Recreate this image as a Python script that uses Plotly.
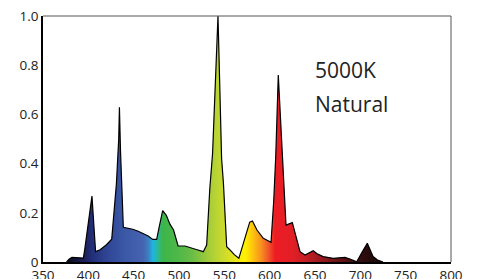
import plotly.graph_objects as go

# Spectral data (wavelength nm, relative intensity)
wavelength = [376, 379, 382, 392, 394.5, 396, 404, 408, 413, 420, 425.8, 431, 433.5, 434.3,
              435.5, 438.6, 444, 449, 455, 460.6, 466, 471, 475.4, 478, 482, 486, 490, 494,
              499, 506.6, 514, 520, 526.8, 530.5, 534, 537, 543, 547, 549, 552.6, 556, 561,
              566, 578, 581, 586, 593, 601.5, 604.5, 606.7, 609.5, 614.3, 616.5, 618,
              625, 629, 633.5, 639, 648, 653, 659, 670, 683, 690, 696, 702, 707.7, 714, 719, 725]
intensity = [0.0, 0.012, 0.019, 0.019, 0.016, 0.05, 0.268, 0.042, 0.05, 0.07, 0.093, 0.32, 0.5, 0.629,
             0.45, 0.141, 0.138, 0.133, 0.125, 0.117, 0.106, 0.092, 0.092, 0.14, 0.209, 0.19, 0.154, 0.13,
             0.065, 0.065, 0.058, 0.05, 0.042, 0.069, 0.30, 0.44, 1.0, 0.42, 0.32, 0.062, 0.05, 0.03,
             0.015, 0.162, 0.167, 0.13, 0.096, 0.08, 0.25, 0.43, 0.76, 0.415, 0.25, 0.15,
             0.16, 0.1, 0.042, 0.028, 0.046, 0.032, 0.022, 0.015, 0.019, 0.01, 0.001, 0.04, 0.076, 0.022, 0.008, 0.0]

# Wavelength colour stops for the fill
color_nm = [376, 395, 405, 420, 440, 460, 466, 471, 476, 482, 500, 515, 530, 540, 555, 565, 573,
            582, 590, 598, 606, 625, 640, 655, 670, 690, 705, 725]
color_hex = ["#0b0b1c", "#1b1e55", "#23307a", "#2f4594", "#3a58a6", "#4563b0", "#3f7cc0", "#1cb5e2",
             "#2ab9a0", "#3cb54a", "#50b848", "#6abd45", "#9cca3b", "#b6d334", "#d8df26", "#f2ea14",
             "#fff200", "#fdc010", "#f7941d", "#f15a29", "#ed1c24", "#e21f26", "#c41e24", "#9b1b1f",
             "#761618", "#4a1012", "#2b0c0c", "#1a0808"]

x_ticks = [350, 400, 450, 500, 550, 600, 650, 700, 750, 800]
y_ticks = [0, 0.2, 0.4, 0.6, 0.8, 1.0]
y_ticktext = ["0", "0.2", "0.4", "0.6", "0.8", "1.0"]
label_lines = ["5000K", "Natural"]

lo, hi = color_nm[0], color_nm[-1]
colorscale = [[(w - lo) / (hi - lo), c] for w, c in zip(color_nm, color_hex)]

fig = go.Figure()
fig.add_trace(go.Scatter(
    x=wavelength, y=intensity, mode="lines", fill="tozeroy",
    line=dict(color="black", width=1.2),
    fillgradient=dict(type="horizontal", colorscale=colorscale, start=lo, stop=hi),
    hoverinfo="skip", showlegend=False,
))

font_family = "Open Sans, DejaVu Sans, sans-serif"
fig.update_layout(
    template="none",
    width=484, height=279,
    margin=dict(l=43, r=33, t=16, b=17),
    paper_bgcolor="white", plot_bgcolor="white",
    showlegend=False,
    font=dict(family=font_family, size=13, color="#222"),
    xaxis=dict(range=[350, 800], tickvals=x_ticks, showgrid=False, zeroline=False,
               showline=True, linecolor="black", linewidth=1.5, ticks="", automargin=False,
               tickfont=dict(size=13.5, color="#222")),
    yaxis=dict(range=[0, 1.0], tickvals=y_ticks, ticktext=y_ticktext, showgrid=False,
               zeroline=False, showline=True, linecolor="black", linewidth=1.5, ticks="",
               automargin=False, tickfont=dict(size=13.5, color="#222")),
)
# top and right frame lines (lighter)
fig.add_shape(type="line", xref="paper", yref="paper", x0=0, x1=1, y0=1, y1=1,
              line=dict(color="#555", width=1))
fig.add_shape(type="line", xref="paper", yref="paper", x0=1, x1=1, y0=0, y1=1,
              line=dict(color="#555", width=1))

fig.add_annotation(x=648, y=0.78, xref="x", yref="y", text=label_lines[0], showarrow=False,
                   xanchor="left", yanchor="middle", font=dict(family=font_family, size=21, color="#222"))
fig.add_annotation(x=648, y=0.642, xref="x", yref="y", text=label_lines[1], showarrow=False,
                   xanchor="left", yanchor="middle", font=dict(family=font_family, size=21, color="#222"))

fig.write_html("out.html", config={"displayModeBar": False},
               post_script="document.body.style.margin='0';")
